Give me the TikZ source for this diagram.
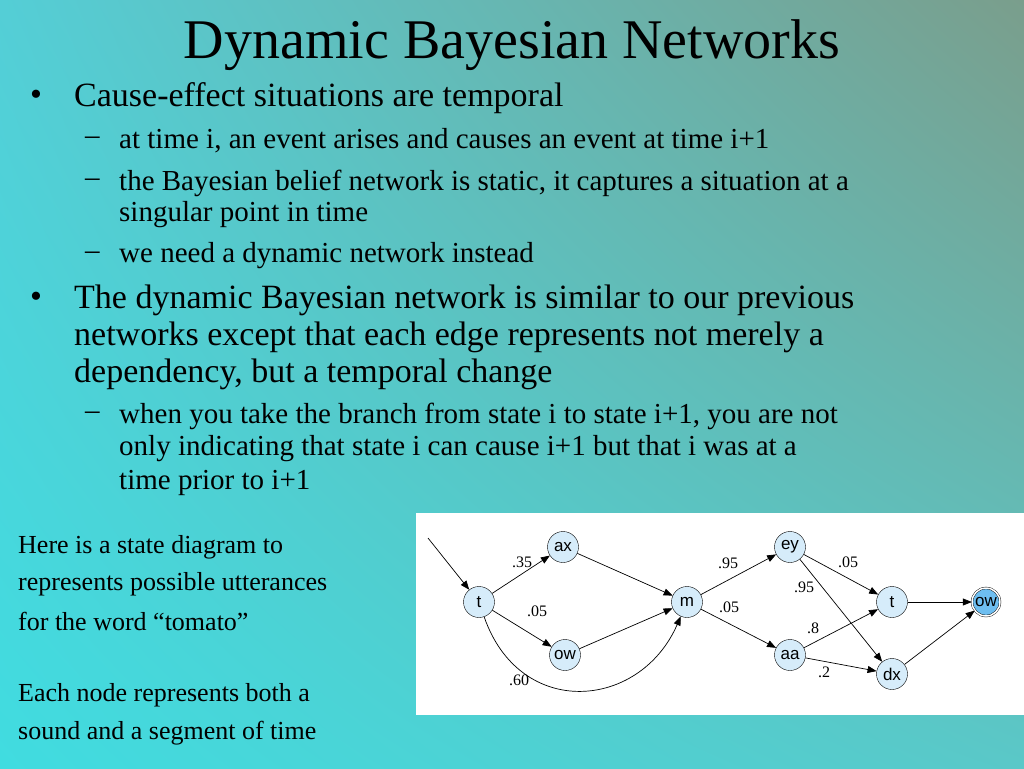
\documentclass[tikz,border=0pt]{standalone}
\usepackage{fontspec}
\setmainfont{Liberation Serif}
\setsansfont{Liberation Sans}
\usetikzlibrary{arrows.meta}
\usetikzlibrary{calc}
\usetikzlibrary{shadings}

\definecolor{bgul}{RGB}{84,206,214}
\definecolor{bgur}{RGB}{122,158,140}
\definecolor{bgll}{RGB}{64,220,224}
\definecolor{bglr}{RGB}{90,200,200}
\definecolor{nodefill}{RGB}{214,236,250}
\definecolor{endfill}{RGB}{110,190,240}

\tikzset{
  txt/.style={anchor=west, inner sep=0pt},
  lone/.style={txt, font=\fontsize{34}{36}\selectfont},
  ltwo/.style={txt, font=\fontsize{29}{31}\selectfont},
  side/.style={txt, font=\fontsize{26}{28}\selectfont},
  st/.style={circle, draw, inner sep=0pt, minimum size=31pt, fill=nodefill, font=\sffamily\fontsize{17}{18}\selectfont},
  pr/.style={inner sep=0pt, font=\fontsize{16}{17}\selectfont},
  tr/.style={-{Triangle[length=9pt, width=7pt]}, line width=0.7pt},
}

\begin{document}
\begin{tikzpicture}[x=1pt, y=-1pt]
      \useasboundingbox (0,0) rectangle (1024,768);
      \shade[upper left=bgul, upper right=bgur, lower left=bgll, lower right=bglr]
            (0,0) rectangle (1024,768);

      \node[font=\fontsize{56}{58}\selectfont, inner sep=0pt] (title) at (512,45) {Dynamic Bayesian Networks};

      \node[lone] (b1) at (30,98) {\textbullet};
      \node[lone] (l1) at (74,98) {Cause-effect situations are temporal};
      \node[ltwo] (d1) at (85,141) {--};
      \node[ltwo] (l2) at (119,141) {at time i, an event arises and causes an event at time i+1};
      \node[ltwo] (d2) at (85,183) {--};
      \node[ltwo] (l3) at (119,183) {the Bayesian belief network is static, it captures a situation at a};
      \node[ltwo] (l4) at (119,215) {singular point in time};
      \node[ltwo] (d3) at (85,256) {--};
      \node[ltwo] (l5) at (119,256) {we need a dynamic network instead};
      \node[lone] (b2) at (30,300) {\textbullet};
      \node[lone] (l6) at (74,300) {The dynamic Bayesian network is similar to our previous};
      \node[lone] (l7) at (74,337) {networks except that each edge represents not merely a};
      \node[lone] (l8) at (74,374) {dependency, but a temporal change};
      \node[ltwo] (d4) at (85,416) {--};
      \node[ltwo] (l9) at (119,416) {when you take the branch from state i to state i+1, you are not};
      \node[ltwo] (l10) at (119,449) {only indicating that state i can cause i+1 but that i was at a};
      \node[ltwo] (l11) at (119,483) {time prior to i+1};

      \node[side] (s1) at (18,547) {Here is a state diagram to};
      \node[side] (s2) at (18,584) {represents possible utterances};
      \node[side] (s3) at (18,621) {for the word ``tomato''};
      \node[side] (s4) at (18,695) {Each node represents both a};
      \node[side] (s5) at (18,733) {sound and a segment of time};

      % state diagram
      \fill[white] (416,513) rectangle (1024,715);
      \coordinate (start) at (428,538);
      \node[st] (t) at (479,602) {t};
      \node[st] (ax) at (563,547) {ax};
      \node[st] (ow) at (565,655) {ow};
      \node[st] (m) at (687,602) {m};
      \node[st] (ey) at (790,547) {ey};
      \node[st] (aa) at (790,655) {aa};
      \node[st] (t2) at (892,602) {t};
      \node[st] (dx) at (892,674) {dx};
      \node[st, fill=endfill, double, double distance=1.5pt, minimum size=28pt] (end) at (986,602) {ow};

      \draw[tr] (start) -- (t);
      \draw[tr] (t) -- (ax);
      \draw[tr] (t) -- (ow);
      \draw[tr] (t) .. controls (520,720) and (640,710) .. (m);
      \draw[tr] (ax) -- (m);
      \draw[tr] (ow) -- (m);
      \draw[tr] (m) -- (ey);
      \draw[tr] (m) -- (aa);
      \draw[tr] (ey) -- (t2);
      \draw[tr] (ey) -- (dx);
      \draw[tr] (aa) -- (t2);
      \draw[tr] (aa) -- (dx);
      \draw[tr] (t2) -- (end);
      \draw[tr] (dx) -- (end);

      \node[pr] at (522,562) {.35};
      \node[pr] at (537,611) {.05};
      \node[pr] at (519,680) {.60};
      \node[pr] at (728,563) {.95};
      \node[pr] at (729,607) {.05};
      \node[pr] at (848,562) {.05};
      \node[pr] at (804,587) {.95};
      \node[pr] at (813,628) {.8};
      \node[pr] at (824,672) {.2};
\end{tikzpicture}
\end{document}
